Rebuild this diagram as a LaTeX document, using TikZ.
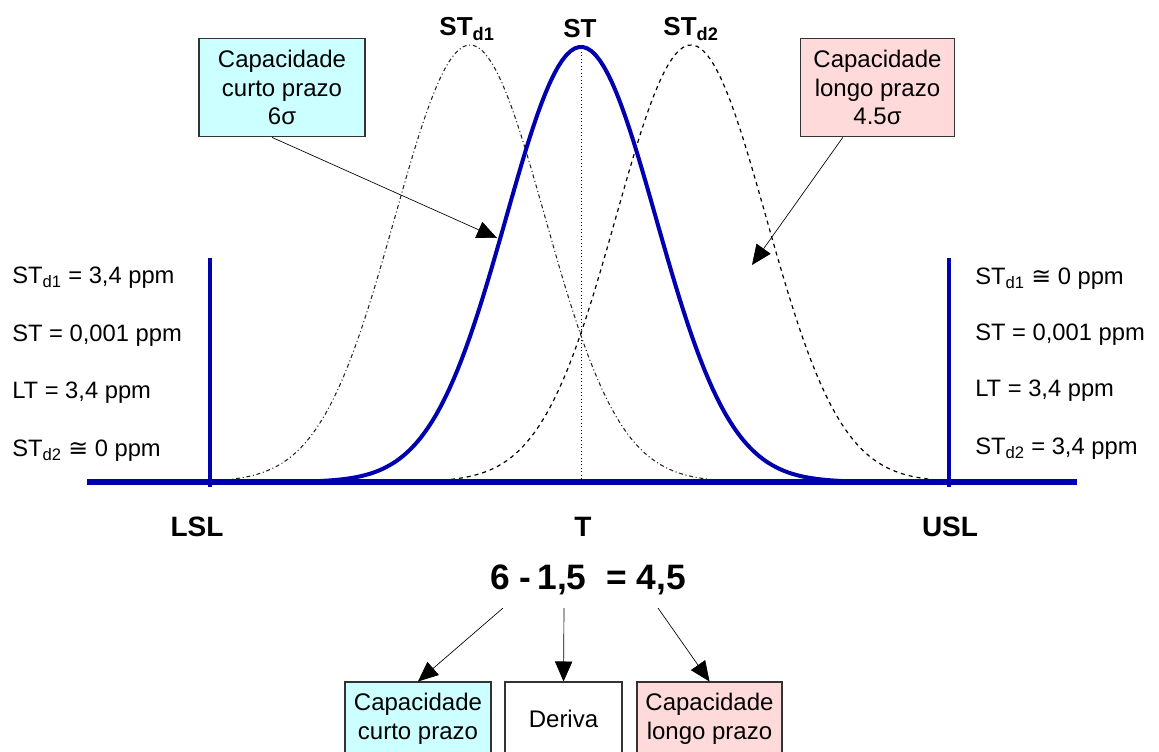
\documentclass[tikz,border=0pt]{standalone}
\usepackage{fontspec}
\setmainfont{Liberation Sans}
\newfontfamily\dejavu{DejaVu Sans}
\usetikzlibrary{arrows.meta}
\definecolor{lineblue}{RGB}{0,0,175}
\definecolor{boxcyan}{RGB}{204,255,255}
\definecolor{boxpink}{RGB}{255,218,218}
\newcommand{\approxeq}{{\dejavu\char"2245}}
\begin{document}
\begin{tikzpicture}[x=0.75pt,y=-0.75pt,
  sidetext/.style={anchor=west,inner sep=0pt,font=\fontsize{17.8}{20}\selectfont},
  axlabel/.style={inner sep=0pt,font=\fontsize{21}{24}\selectfont\bfseries},
  toplabel/.style={inner sep=0pt,font=\fontsize{19.5}{22}\selectfont\bfseries},
  capbox/.style={draw=black!80,line width=0.8pt,align=center,inner sep=2pt,
    font=\fontsize{18}{21.5}\selectfont},
  ptr/.style={-{Triangle[length=15pt,width=13pt]},line width=0.5pt,black},
  bluethick/.style={lineblue,line width=3pt},
]
\useasboundingbox (0,0) rectangle (1159,751);
% axis and limits
\coordinate (b0) at (87,482);
\coordinate (b1) at (1077,482);
\coordinate (lslt) at (210,258);
\coordinate (lslb) at (210,487);
\coordinate (uslt) at (949,258);
\coordinate (uslb) at (949,487);
\coordinate (ctop) at (581,45);
\coordinate (cbot) at (581,482);
\draw[black,line width=0.6pt,dotted] (ctop) -- (cbot);
% shifted curves
\draw[black!85,line width=0.8pt,dash dot] plot[domain=205:775,samples=120]
  (\x,{482-437*exp(-((\x-470)/75)^2/2)});
\draw[black,line width=0.9pt,dashed] plot[domain=387:955,samples=120]
  (\x,{482-437*exp(-((\x-691)/75)^2/2)});
% centred curve
\draw[bluethick,line join=round] plot[domain=290:872,samples=140]
  (\x,{482-435*exp(-((\x-581)/75)^2/2)});
\draw[lineblue,line width=3.8pt] (b0) -- (b1);
\draw[bluethick] (lslt) -- (lslb);
\draw[bluethick] (uslt) -- (uslb);
% top labels
\node[toplabel] (lstd1) at (467,29) {ST\textsubscript{d1}};
\node[toplabel] (lst) at (580,29) {ST};
\node[toplabel] (lstd2) at (691,29) {ST\textsubscript{d2}};
% axis labels
\node[axlabel] (lsl) at (197,527) {LSL};
\node[axlabel] (lt) at (583,527) {T};
\node[axlabel] (usl) at (950,527) {USL};
% side texts
\node[sidetext] (l1) at (12,278) {ST\textsubscript{d1} = 3,4 ppm};
\node[sidetext] (l2) at (12,336) {ST = 0,001 ppm};
\node[sidetext] (l3) at (12,393) {LT = 3,4 ppm};
\node[sidetext] (l4) at (12,451) {ST\textsubscript{d2} \approxeq\ 0 ppm};
\node[sidetext] (r1) at (975,279) {ST\textsubscript{d1} \approxeq\ 0 ppm};
\node[sidetext] (r2) at (975,335) {ST = 0,001 ppm};
\node[sidetext] (r3) at (975,391) {LT = 3,4 ppm};
\node[sidetext] (r4) at (975,449) {ST\textsubscript{d2} = 3,4 ppm};
% top boxes
\node[capbox,fill=boxcyan,minimum width=124.5pt,minimum height=74pt] (cshort) at (282,87.5)
  {Capacidade\\curto prazo\\6σ};
\node[capbox,fill=boxpink,minimum width=116pt,minimum height=74pt] (clong) at (877.5,87.5)
  {Capacidade\\longo prazo\\4.5σ};
\coordinate (tipst) at (497,238);
\coordinate (tipld) at (752,265);
\draw[ptr] ([xshift=-7.5pt]cshort.south) -- (tipst);
\draw[ptr] ([xshift=-26pt]clong.south) -- (tipld);
% equation
\node[inner sep=0pt,font=\fontsize{26.5}{30}\selectfont\bfseries] (eq) at (588,580) {6 -\,1,5\ \ = 4,5};
\coordinate (e1) at (503,608);
\coordinate (e2) at (564,608);
\coordinate (e3) at (658,608);
% bottom boxes
\node[capbox,fill=boxcyan,minimum width=109.5pt,minimum height=55.5pt] (bshort) at (418,719)
  {Capacidade\\curto prazo};
\node[capbox,fill=white,minimum width=87.75pt,minimum height=55.5pt] (bdrift) at (563.5,719)
  {Deriva};
\node[capbox,fill=boxpink,minimum width=108.75pt,minimum height=55.5pt] (blong) at (709.5,719)
  {Capacidade\\longo prazo};
\draw[ptr] (e1) -- (bshort.north);
\draw[ptr] (e2) -- (bdrift.north);
\draw[ptr] (e3) -- (blong.north);
\end{tikzpicture}
\end{document}
